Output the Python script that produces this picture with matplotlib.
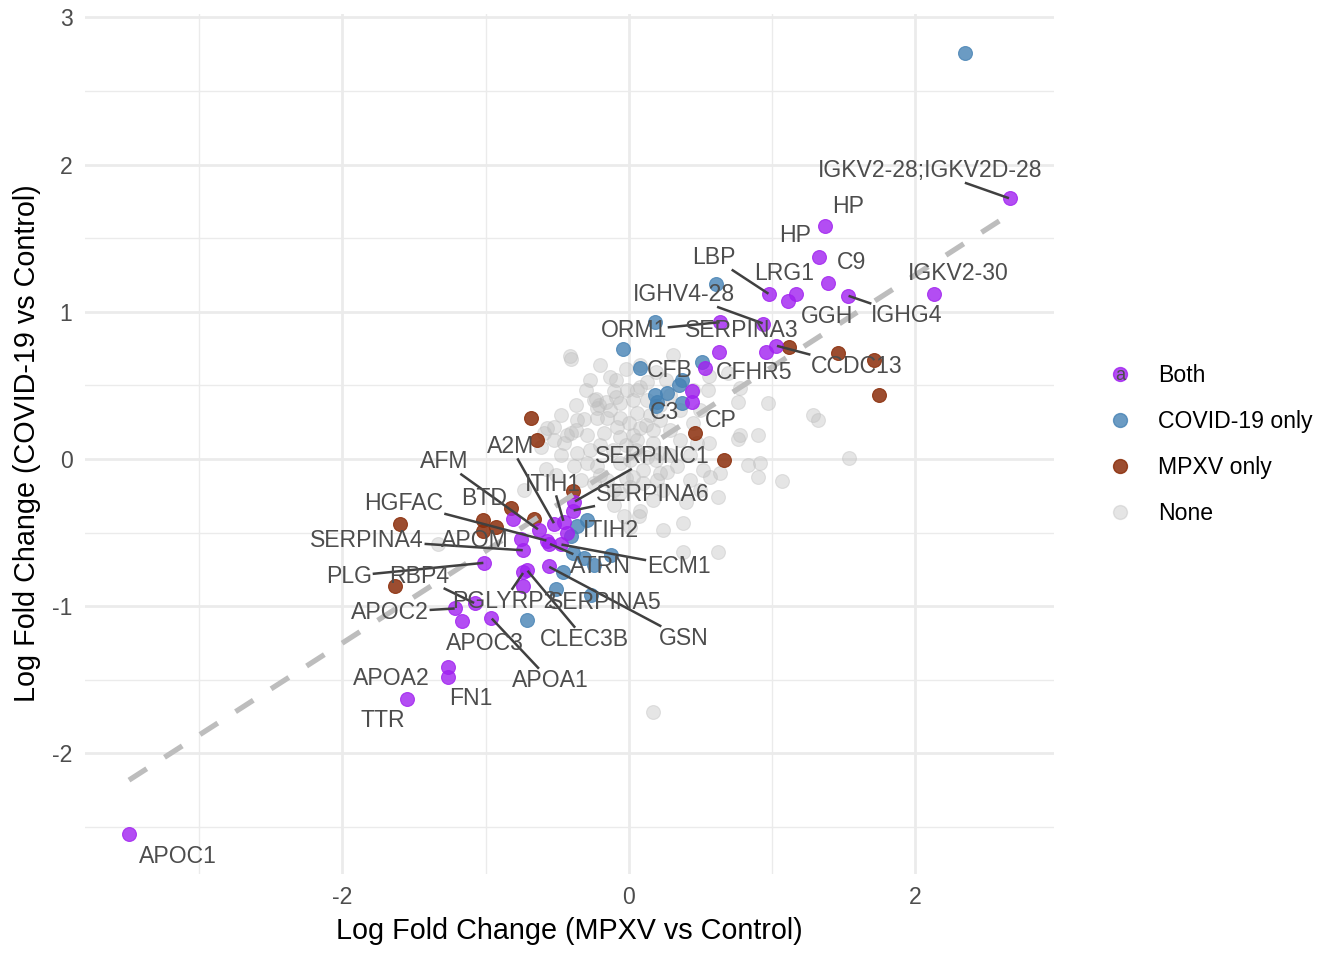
import matplotlib
matplotlib.use("Agg")
import matplotlib.pyplot as plt
from matplotlib.legend_handler import HandlerBase
from matplotlib.lines import Line2D
from matplotlib.text import Text
import numpy as np

plt.rcParams['font.family'] = ['Liberation Sans', 'DejaVu Sans']
plt.rcParams['axes.unicode_minus'] = False

# proteins significant in both comparisons (labelled)
both_labels = ["IGKV2-28;IGKV2D-28", "HP", "HP", "C9", "LBP", "LRG1", "GGH", "IGHG4",
               "IGKV2-30", "IGHV4-28", "ORM1", "SERPINA3", "CCDC13", "CFHR5", "CFB", "C3",
               "CP", "SERPINC1", "SERPINA6", "ITIH1", "A2M", "AFM", "HGFAC", "BTD",
               "SERPINA4", "APOM", "ITIH2", "ATRN", "ECM1", "PLG", "RBP4", "PGLYRP2",
               "SERPINA5", "APOC2", "APOC3", "CLEC3B", "GSN", "APOA1", "APOA2", "FN1",
               "TTR", "APOC1"]
both_x = [2.66, 1.37, 1.33, 1.39, 0.98, 1.17, 1.11, 1.53,
          2.13, 0.94, 0.64, 0.955, 1.03, 0.63, 0.53, 0.44,
          0.445, -0.38, -0.39, -0.455, -0.52, -0.63, -0.57, -0.81,
          -0.735, -0.75, -0.43, -0.555, -0.475, -1.01, -1.075, -0.735,
          -0.735, -1.21, -1.165, -0.71, -0.56, -0.96, -1.265, -1.265,
          -1.55, -3.49]
both_y = [1.77, 1.58, 1.37, 1.195, 1.12, 1.12, 1.075, 1.11,
          1.12, 0.92, 0.93, 0.73, 0.77, 0.73, 0.62, 0.46,
          0.385, -0.29, -0.35, -0.425, -0.44, -0.48, -0.555, -0.41,
          -0.62, -0.54, -0.505, -0.575, -0.58, -0.705, -0.98, -0.77,
          -0.86, -1.015, -1.10, -0.755, -0.73, -1.08, -1.41, -1.48,
          -1.63, -2.55]

# where the repelled labels ended up, and whether a leader segment is drawn
label_x = [2.107, 1.535, 1.165, 1.556, 0.593, 1.082, 1.382, 1.940,
           2.303, 0.384, 0.035, 0.789, 1.591, 0.879, 0.286, 0.251,
           0.642, 0.167, 0.167, -0.530, -0.823, -1.291, -1.570, -1.012,
           -1.828, -1.075, -0.126, -0.195, 0.349, -1.954, -1.465, -0.872,
           -0.167, -1.668, -1.005, -0.307, 0.384, -0.551, -1.661, -1.103,
           -1.717, -3.147]
label_y = [1.959, 1.714, 1.517, 1.333, 1.367, 1.259, 0.966, 0.973,
           1.259, 1.116, 0.871, 0.871, 0.626, 0.585, 0.599, 0.313,
           0.259, 0.014, -0.238, -0.170, 0.082, -0.020, -0.299, -0.265,
           -0.551, -0.551, -0.483, -0.728, -0.728, -0.796, -0.796, -0.966,
           -0.973, -1.041, -1.252, -1.224, -1.218, -1.503, -1.490, -1.626,
           -1.776, -2.701]
label_segment = [1, 0, 0, 0, 1, 0, 0, 1,
                 0, 1, 1, 0, 1, 0, 0, 0,
                 0, 1, 1, 1, 1, 1, 1, 0,
                 1, 0, 0, 1, 1, 1, 1, 1,
                 0, 1, 0, 1, 1, 1, 0, 0,
                 0, 0]

covid_x = [2.345, 0.61, 0.18, -0.04, 0.08, 0.51, 0.37, 0.35, 0.27, 0.18, 0.195, 0.375, 0.19,
           -0.36, -0.29, -0.40, -0.39, -0.125, -0.46, -0.51, -0.265, -0.71, -0.31, -0.24]
covid_y = [2.76, 1.19, 0.93, 0.75, 0.62, 0.66, 0.54, 0.50, 0.45, 0.435, 0.39, 0.38, 0.36,
           -0.455, -0.415, -0.52, -0.64, -0.65, -0.77, -0.88, -0.925, -1.095, -0.675, -0.72]

mpxv_x = [1.12, 1.46, 1.71, 1.75, 0.46, -0.68, -0.64, 0.665,
          -0.39, -0.82, -1.02, -1.02, -0.93, -1.60, -0.66, -1.63]
mpxv_y = [0.76, 0.72, 0.67, 0.435, 0.18, 0.28, 0.13, -0.01,
          -0.22, -0.33, -0.415, -0.49, -0.46, -0.44, -0.41, -0.86]

none_points = [
    (-0.41, 0.70), (-0.40, 0.68), (-0.20, 0.64), (-0.13, 0.56), (-0.10, 0.46), (-0.23, 0.41),
    (-0.21, 0.37), (-0.16, 0.39), (-0.06, 0.38), (-0.01, 0.47), (0.06, 0.47), (0.13, 0.52),
    (-0.15, 0.28), (-0.22, 0.28), (-0.31, 0.27), (-0.37, 0.20), (-0.52, 0.22), (-0.59, 0.18),
    (-0.43, 0.16), (-0.29, 0.16), (-0.17, 0.18), (-0.08, 0.22), (0.00, 0.245), (0.06, 0.31),
    (0.08, 0.21), (0.17, 0.20), (-0.06, 0.15), (0.13, 0.40), (0.31, 0.71), (0.45, 0.47),
    (0.55, 0.47), (0.78, 0.48), (0.76, 0.39), (0.97, 0.38), (1.29, 0.30), (1.32, 0.265),
    (0.50, 0.33), (0.45, 0.245), (0.90, 0.16), (0.78, 0.16), (0.76, 0.135), (1.535, 0.005),
    (0.83, -0.04), (0.915, -0.03), (0.90, -0.12), (1.07, -0.15), (0.64, -0.095), (0.57, -0.12),
    (0.52, -0.075), (0.62, -0.26), (0.40, -0.29), (0.38, -0.435), (0.24, -0.48), (0.38, -0.63),
    (0.62, -0.63), (0.56, 0.11), (0.48, 0.11), (0.27, -0.09), (0.34, -0.05), (-0.40, 0.18),
    (0.06, 0.13), (0.17, 0.11), (0.22, 0.04), (0.13, 0.015), (0.01, -0.01), (-0.06, -0.03),
    (0.10, -0.075), (0.22, -0.095), (0.24, -0.21), (0.17, -0.28), (0.08, -0.35), (-0.03, -0.39),
    (-0.10, -0.31), (-0.45, 0.11), (-0.52, 0.13), (-0.61, 0.08), (-0.36, 0.04), (-0.29, -0.03),
    (-0.38, -0.05), (-0.22, -0.05), (-0.15, -0.14), (-0.24, -0.16), (-0.10, -0.21), (0.01, -0.19),
    (0.10, -0.16), (0.20, -0.14), (0.01, -0.46), (-1.33, -0.58), (-0.58, -0.07), (-0.73, -0.21),
    (-0.57, 0.21), (-0.36, 0.265), (-0.22, 0.35), (-0.24, 0.40), (0.03, -0.12), (0.07, -0.39),
    (-0.06, -0.23), (0.17, -1.72), (0.69, 0.585), (0.56, 0.565), (0.08, 0.49), (-0.30, 0.47),
    (-0.27, 0.54), (-0.09, 0.54), (-0.02, 0.61), (0.08, 0.64), (0.19, 0.59), (0.26, 0.54),
    (0.29, 0.435), (0.36, 0.33), (0.22, 0.265), (0.15, 0.30), (0.29, 0.20), (0.36, 0.13),
    (0.43, 0.03), (0.29, 0.03), (0.19, -0.01), (-0.11, 0.06), (-0.20, 0.095), (-0.27, 0.06),
    (-0.02, 0.095), (0.05, 0.06), (-0.47, 0.03), (-0.51, -0.11), (-0.33, -0.14), (-0.20, -0.11),
    (-0.02, -0.13), (0.43, -0.14), (0.50, -0.21), (-0.47, 0.30), (-0.37, 0.37), (-0.13, 0.33),
    (-0.06, 0.28), (0.03, 0.16), (0.12, 0.23), (0.22, 0.37), (-0.09, 0.42), (0.03, 0.40),
]

# trend line y = slope * x + intercept
fit_slope = 0.625
fit_intercept = 0.0

col_both = "#A020F0"
col_covid = "#4682B4"
col_mpxv = "#8B2E0B"
col_none = "#BEBEBE"
text_grey = "#4D4D4D"
pt_size = 100


class DotWithA(HandlerBase):
    # ggrepel puts a little "a" on top of the key of the labelled group
    def __init__(self, color, alpha, msize):
        super().__init__()
        self.color = color
        self.alpha = alpha
        self.msize = msize

    def create_artists(self, legend, orig_handle, xdescent, ydescent, width, height, fontsize, trans):
        cx = 0.5 * width - xdescent
        cy = 0.5 * height - ydescent
        dot = Line2D([cx], [cy], marker='o', linestyle='none', markersize=self.msize,
                     markerfacecolor=self.color, markeredgecolor=self.color, alpha=self.alpha,
                     transform=trans)
        a = Text(cx, cy - 0.12 * height, 'a', ha='center', va='center', color=text_grey,
                 fontsize=fontsize * 0.8, transform=trans)
        return [dot, a]


fig = plt.figure(figsize=(13.44, 9.6), dpi=100)
ax = fig.add_axes([0.0632, 0.0901, 0.7208, 0.8957])

none_x = [p[0] for p in none_points]
none_y = [p[1] for p in none_points]

all_x = both_x + covid_x + mpxv_x + none_x
all_y = both_y + covid_y + mpxv_y + none_y
xr = max(all_x) - min(all_x)
yr = max(all_y) - min(all_y)
xlim = (min(all_x) - 0.05 * xr, max(all_x) + 0.05 * xr)
ylim = (min(all_y) - 0.05 * yr, max(all_y) + 0.05 * yr)

# grid like theme_minimal
for v in [-2, 0, 2]:
    ax.axvline(v, color="#EBEBEB", lw=2.0, zorder=0)
for v in [-3, -1, 1]:
    ax.axvline(v, color="#EBEBEB", lw=1.0, zorder=0)
for v in [-2, -1, 0, 1, 2, 3]:
    ax.axhline(v, color="#EBEBEB", lw=2.0, zorder=0)
for v in [-2.5, -1.5, -0.5, 0.5, 1.5, 2.5]:
    ax.axhline(v, color="#EBEBEB", lw=1.0, zorder=0)

ax.scatter(none_x, none_y, s=pt_size, color=col_none, alpha=0.4, linewidths=0.8, zorder=2)
ax.scatter(covid_x, covid_y, s=pt_size, color=col_covid, alpha=0.8, linewidths=0.8, zorder=3)
ax.scatter(mpxv_x, mpxv_y, s=pt_size, color=col_mpxv, alpha=0.85, linewidths=0.8, zorder=3)
ax.scatter(both_x, both_y, s=pt_size, color=col_both, alpha=0.8, linewidths=0.8, zorder=3)

fx = np.array([min(all_x), max(all_x)])
ax.plot(fx, fit_slope * fx + fit_intercept, color="#BDBDBD", lw=3.8, dashes=(4, 4),
        solid_capstyle='butt', dash_capstyle='butt', zorder=4)

ax.set_xlim(*xlim)
ax.set_ylim(*ylim)

texts = []
for lab, tx, ty in zip(both_labels, label_x, label_y):
    texts.append(ax.text(tx, ty, lab, ha='center', va='center', fontsize=16.6,
                         color=text_grey, zorder=6))

ax.set_xticks([-2, 0, 2])
ax.set_xticklabels(["-2", "0", "2"])
ax.set_yticks([-2, -1, 0, 1, 2, 3])
ax.set_yticklabels(["-2", "-1", "0", "1", "2", "3"])
ax.tick_params(length=0, labelsize=16.6, labelcolor=text_grey, pad=9)
for s in ax.spines.values():
    s.set_visible(False)
ax.set_xlabel("Log Fold Change (MPXV vs Control)", fontsize=20.7, labelpad=6)
ax.set_ylabel("Log Fold Change (COVID-19 vs Control)", fontsize=20.7, labelpad=8)

# leader segments from label box edge to the point
fig.canvas.draw()
renderer = fig.canvas.get_renderer()
inv = ax.transData.inverted()
for t, px, py, seg in zip(texts, both_x, both_y, label_segment):
    if not seg:
        continue
    bb = t.get_window_extent(renderer)
    c = np.array([(bb.x0 + bb.x1) / 2, (bb.y0 + bb.y1) / 2])
    p = ax.transData.transform((px, py))
    d = p - c
    tx = (bb.width / 2 + 2) / abs(d[0]) if d[0] != 0 else np.inf
    ty = (bb.height / 2 + 1) / abs(d[1]) if d[1] != 0 else np.inf
    k = min(tx, ty)
    if k >= 1:
        continue
    start = inv.transform(c + d * k)
    end = inv.transform(p - d / np.linalg.norm(d) * 2)
    ax.add_line(Line2D([start[0], end[0]], [start[1], end[1]], color="#404040", lw=1.8, zorder=5))

legend_handles = [
    Line2D([], [], marker='o', linestyle='none', markersize=10, color=col_both, alpha=0.8),
    Line2D([], [], marker='o', linestyle='none', markersize=10, color=col_covid, alpha=0.8),
    Line2D([], [], marker='o', linestyle='none', markersize=10, color=col_mpxv, alpha=0.85),
    Line2D([], [], marker='o', linestyle='none', markersize=10, color=col_none, alpha=0.4),
]
leg = fig.legend(legend_handles, ["Both", "COVID-19 only", "MPXV only", "None"],
                 loc='center left', bbox_to_anchor=(0.8248, 0.537), frameon=False,
                 fontsize=16.6, handlelength=1.0, handletextpad=1.15, labelspacing=1.0,
                 borderpad=0, borderaxespad=0,
                 handler_map={legend_handles[0]: DotWithA(col_both, 0.8, 10)})

fig.savefig("out.png", dpi=100)
